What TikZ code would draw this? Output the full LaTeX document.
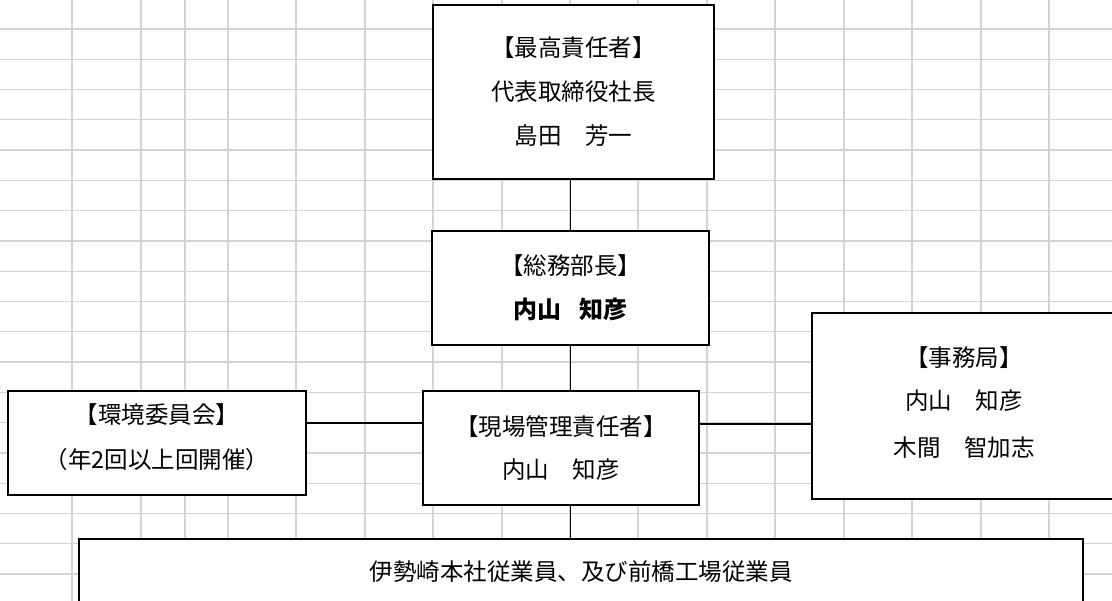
\documentclass[tikz,border=0pt]{standalone}
\usepackage{fontspec}
\newfontfamily\cjk{Noto Sans CJK JP}
\definecolor{gridgray}{RGB}{212,212,212}
\newcommand\liftby[2]{\raisebox{#1}[\height][\depth]{#2}}
\begin{document}
\begin{tikzpicture}[x=1pt,y=-1pt,
  gridline/.style={draw=gridgray,line width=1.3pt},
  box/.style={draw=black,line width=1.4pt,fill=white,inner sep=0pt,align=center,
    font=\cjk\fontsize{23.5}{44}\selectfont},
  link/.style={draw=black,line width=1.5pt}]
\useasboundingbox (0,0) rectangle (1112,601);
\clip (0,0) rectangle (1112,601);
\fill[white] (0,0) rectangle (1112,601);
% spreadsheet grid
\foreach \x in {72,141,185,228,296,365,433,502,570,638,707,775,844,912,981,1049}
  \draw[gridline] (\x,0) -- (\x,601);
\foreach \k in {0,...,18}
  \draw[gridline] (0,29+30.28*\k) -- (1112,29+30.28*\k);
% boxes
\node[box,minimum width=281pt,minimum height=174pt] (top) at (573.5,92)
  {【最高責任者】\\代表取締役社長\\島田　芳一};
\node[box,minimum width=277pt,minimum height=114pt] (gm) at (570.5,288)
  {【総務部長】\\{\bfseries\fontsize{24}{44}\selectfont 内山\hspace{0.75em}知彦}};
\node[box,minimum width=276pt,minimum height=114pt] (site) at (561,448)
  {\liftby{-1pt}{【現場管理責任者】}\\内山　知彦};
\node[box,minimum width=298pt,minimum height=104pt] (env) at (157,443)
  {\liftby{6pt}{【環境委員会】}\\\liftby{5pt}{（年2回以上回開催）}};
\node[box,minimum width=304pt,minimum height=186pt] (office) at (964,406)
  {\liftby{4pt}{【事務局】}\\\liftby{5pt}{内山　知彦}\\\liftby{2pt}{木間　智加志}};
\node[box,minimum width=1004pt,minimum height=65pt] (staff) at (581,571.5)
  {伊勢崎本社従業員、及び前橋工場従業員};
% connectors
\coordinate (hl) at (0,423);
\coordinate (hr) at (0,424);
\draw[link] (gm.north |- top.south) -- (gm.north);
\draw[link] (gm.south) -- (gm.south |- site.north);
\draw[link] (gm.south |- site.south) -- (gm.south |- staff.north);
\draw[link] (env.east |- hl) -- (site.west |- hl);
\draw[link] (site.east |- hr) -- (office.west |- hr);
\end{tikzpicture}
\end{document}
